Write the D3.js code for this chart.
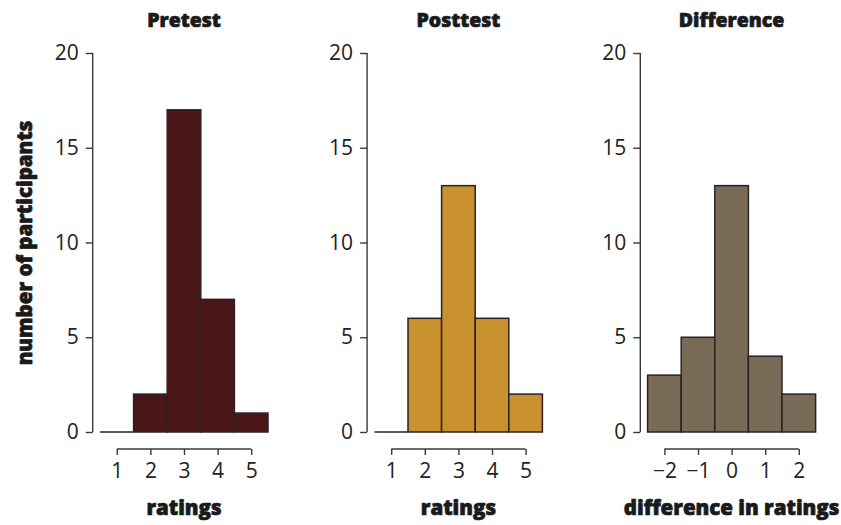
<!DOCTYPE html>
<html><head><meta charset="utf-8">
<script src="https://cdn.jsdelivr.net/npm/d3@7"></script>
<style>body{margin:0;background:#fff}svg{display:block}</style>
</head><body>
<svg id="c" width="841" height="525"></svg>
<script>
const ratings = [1, 2, 3, 4, 5];
const differences = [-2, -1, 0, 1, 2];
const pretestCounts = [0, 2, 17, 7, 1];
const posttestCounts = [0, 6, 13, 6, 2];
const differenceCounts = [3, 5, 13, 4, 2];
const yTicks = [0, 5, 10, 15, 20];
const panelTitles = ["Pretest", "Posttest", "Difference"];
const xTitles = ["ratings", "ratings", "difference in ratings"];
const yTitle = "number of participants";
const colors = ["#4b1617", "#c8912e", "#7a6a58"];

const panels = [
  {cats: ratings, vals: pretestCounts},
  {cats: ratings, vals: posttestCounts},
  {cats: differences, vals: differenceCounts}
];
const offsets = [0, 274.4, 547.6];
const svg = d3.select("#c");
const y = d3.scaleLinear().domain([0, 20]).range([432, 53]);
const tickFont = "'Open Sans', sans-serif";
const boldFont = "'Open Sans', sans-serif";

function boldText(sel, size) {
  return sel.style("font-family", boldFont).style("font-weight", 800).style("font-size", size + "px")
    .attr("fill", "#1a1a1a").attr("stroke", "#1a1a1a").attr("stroke-width", 0.7)
    .attr("stroke-linejoin", "round");
}

panels.forEach((p, i) => {
  const off = offsets[i];
  const lo = d3.min(p.cats), hi = d3.max(p.cats);
  const x = d3.scaleLinear().domain([lo - 0.5, hi + 0.5]).range([100 + off, 268 + off]);
  const g = svg.append("g");
  const ya = g.append("g").attr("transform", `translate(${92.7 + off},0)`)
    .call(d3.axisLeft(y).tickValues(yTicks).tickSize(7).tickPadding(7));
  const xa = g.append("g").attr("transform", `translate(0,449)`)
    .call(d3.axisBottom(x).tickValues(p.cats).tickSize(6).tickPadding(8)
      .tickFormat(d => d < 0 ? "\u2212" + Math.abs(d) : d));
  [ya, xa].forEach(a => {
    a.select(".domain").remove();
    a.selectAll(".tick line").attr("stroke", "#3a3a3a").attr("stroke-width", 1.4);
    a.selectAll("text").attr("fill", "#222").style("font-family", tickFont).style("font-size", "21px");
  });
  g.append("line").attr("x1", 92.7 + off).attr("x2", 92.7 + off)
    .attr("y1", y(0)).attr("y2", y(20)).attr("stroke", "#3a3a3a").attr("stroke-width", 1.4);
  g.append("line").attr("x1", x(lo)).attr("x2", x(hi))
    .attr("y1", 449).attr("y2", 449).attr("stroke", "#3a3a3a").attr("stroke-width", 1.4);
  const data = p.cats.map((c, k) => ({c, v: p.vals[k]}));
  g.selectAll("rect").data(data.filter(d => d.v > 0)).join("rect")
    .attr("x", d => x(d.c - 0.5)).attr("width", d => x(d.c + 0.5) - x(d.c - 0.5))
    .attr("y", d => y(d.v)).attr("height", d => y(0) - y(d.v))
    .attr("fill", colors[i]).attr("stroke", "#2a2222").attr("stroke-width", 1.5);
  g.selectAll("line.zero").data(data.filter(d => d.v === 0)).join("line").attr("class", "zero")
    .attr("x1", d => x(d.c - 0.5)).attr("x2", d => x(d.c + 0.5))
    .attr("y1", y(0)).attr("y2", y(0)).attr("stroke", "#2a2222").attr("stroke-width", 1.5);
  const mid = x((lo + hi) / 2);
  boldText(g.append("text").attr("x", mid).attr("y", 27).attr("text-anchor", "middle"), 19.5)
    .text(panelTitles[i]);
  boldText(g.append("text").attr("x", mid).attr("y", 515).attr("text-anchor", "middle"), 20.5)
    .text(xTitles[i]);
});
boldText(svg.append("text").attr("transform", "translate(32,243) rotate(-90)").attr("text-anchor", "middle"), 20.5)
  .text(yTitle);
</script>
</body></html>
